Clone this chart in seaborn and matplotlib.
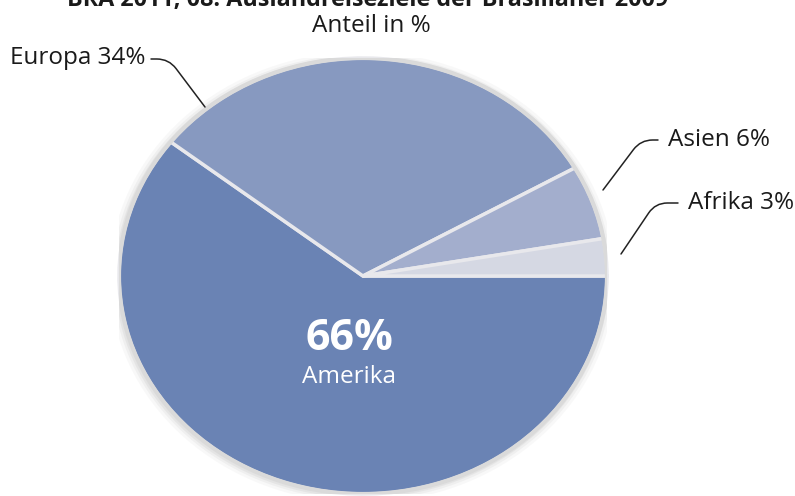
import seaborn as sns
import matplotlib.pyplot as plt
from matplotlib.patches import Ellipse

sns.set_theme(style='white')
plt.rcParams['font.family'] = ['Open Sans', 'DejaVu Sans']

# data
regions = ['Amerika', 'Europa', 'Asien', 'Afrika']
shares = [66, 34, 6, 3]
title = 'BRA 2011, 08: Auslandreiseziele der Brasilianer 2009'
subtitle = 'Anteil in %'

colors = sns.color_palette(['#6a83b4', '#8799c0', '#a3aecd', '#d5d8e3'])

W, H = 795, 496
fig = plt.figure(figsize=(W / 100, H / 100), dpi=100)
fig.patch.set_facecolor('white')

# pie box in pixels: centre (363, 276), rx 244, ry 218
cx, cy, rx, ry = 363, 276, 244, 218
ax = fig.add_axes([(cx - rx) / W, (H - cy - ry) / H, 2 * rx / W, 2 * ry / H])

# soft shadow
for k, a in [(1.035, 0.05), (1.022, 0.07), (1.012, 0.09)]:
    ax.add_patch(Ellipse((-0.004, -0.006), 2 * k, 2 * k, facecolor='#808080',
                         edgecolor='none', alpha=a, zorder=0))

wedges, _ = ax.pie(shares, colors=colors, startangle=0, counterclock=False,
                   wedgeprops=dict(edgecolor='#e8e8ec', linewidth=2.5))
for w in wedges:
    w.set_zorder(2)
ax.add_patch(Ellipse((0, 0), 2, 2, facecolor='none', edgecolor='#dadada',
                     linewidth=3, zorder=3))
ax.set_aspect('auto')
ax.set_xlim(-1, 1)
ax.set_ylim(-1, 1)
ax.axis('off')


def px(x, y):
    return x / W, 1 - y / H


# title sits partly above the top edge, as in the source image
fig.text(*px(368, 6), title, ha='center', va='baseline', fontsize=16.8,
         fontweight='bold', color='#1a1a1a')
fig.text(*px(371, 26), subtitle, ha='center', va='center', fontsize=17.5,
         color='#1a1a1a')

# value labels
fig.text(*px(349, 338), f'{shares[0]}%', ha='center', va='center', fontsize=31,
         fontweight='bold', color='white')
fig.text(*px(349, 377), regions[0], ha='center', va='center', fontsize=17.5,
         color='white')

outside = [
    (regions[1], shares[1], (10, 58), 'left', (151, 59), (205, 107), 127),
    (regions[2], shares[2], (668, 140), 'left', (658, 140), (603, 190), 53),
    (regions[3], shares[3], (688, 203), 'left', (678, 203), (621, 254), 56),
]
for name, val, (tx, ty), ha, start, end, ang in outside:
    fig.text(*px(tx, ty), f'{name} {val}%', ha=ha, va='center', fontsize=17.5,
             color='#1a1a1a')
    fig.add_artist(plt.Annotation(
        '', xy=(end[0], H - end[1]), xytext=(start[0], H - start[1]),
        xycoords='figure pixels', textcoords='figure pixels',
        arrowprops=dict(arrowstyle='-', color='#222222', lw=1.1,
                        shrinkA=0, shrinkB=0,
                        connectionstyle=f'angle,angleA=0,angleB={ang},rad=12')))

fig.savefig('out.png', dpi=100)
